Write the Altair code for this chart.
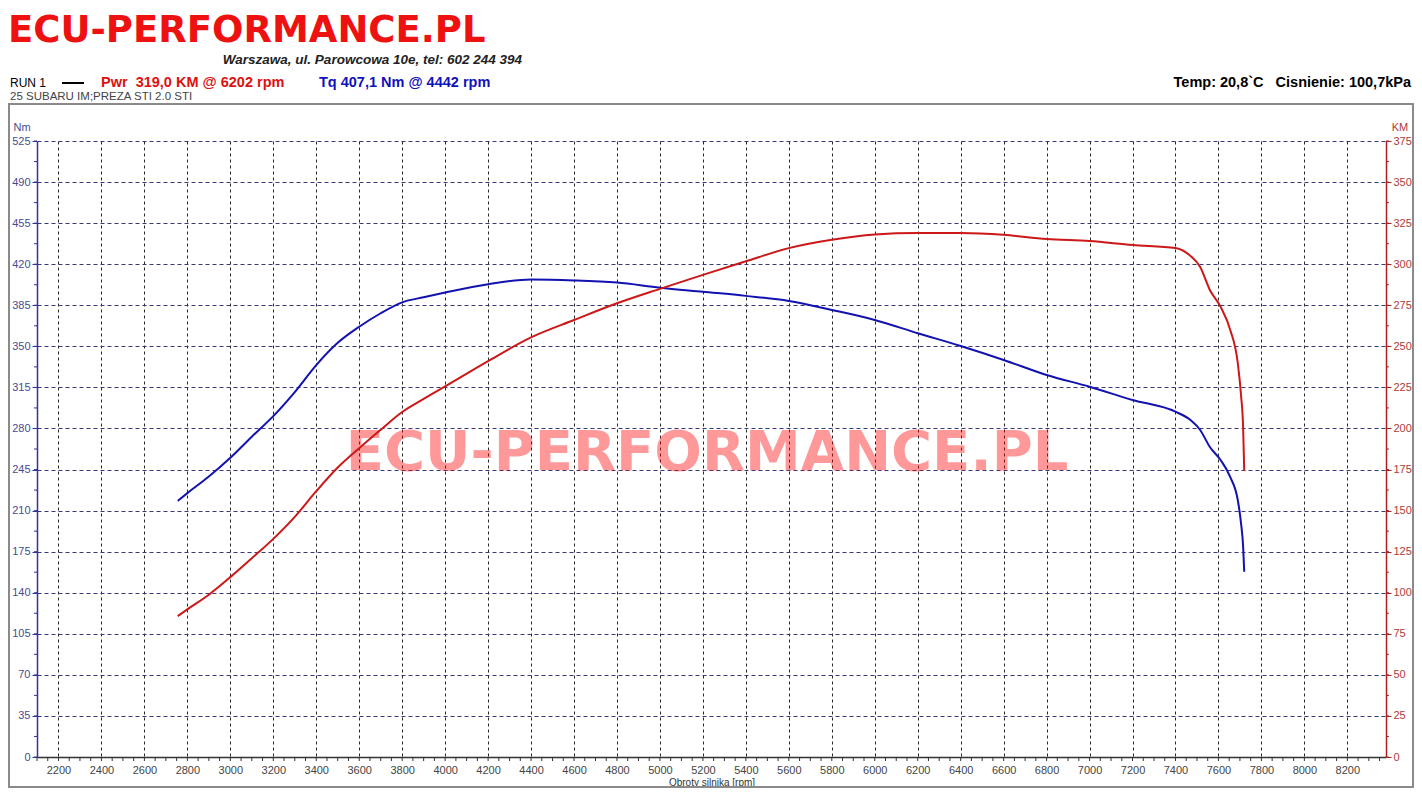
import altair as alt
import pandas as pd

# ---------------- data ----------------
rpm = [2755, 2800, 2900, 3000, 3100, 3200, 3300, 3400, 3500, 3600,
       3700, 3800, 3900, 4000, 4200, 4400, 4600, 4800, 5000, 5200,
       5400, 5600, 5800, 6000, 6200, 6400, 6600, 6800, 7000, 7200,
       7400, 7470, 7515, 7560, 7610, 7655, 7690, 7705, 7715, 7720]
torque_nm = [218.3, 224.9, 239.0, 255.0, 273.0, 290.5, 311.0, 334.0, 353.0, 366.7,
             378.2, 387.5, 391.8, 395.8, 402.9, 407.0, 406.2, 404.3, 400.0, 396.5,
             393.0, 388.7, 381.0, 372.5, 361.2, 350.3, 338.4, 325.6, 315.6, 304.3,
             294.3, 287.2, 278.7, 264.2, 253.1, 238.6, 219.0, 199.4, 179.0, 157.9]
power_km = [85.8, 89.9, 98.8, 109.5, 121.0, 132.8, 146.2, 161.8, 176.2, 188.0,
            199.2, 210.0, 218.0, 225.6, 241.0, 255.4, 266.0, 276.2, 285.0, 293.5,
            301.8, 309.8, 314.9, 318.1, 319.0, 319.0, 317.9, 315.3, 314.1, 311.7,
            309.9, 305.0, 298.3, 284.3, 274.1, 260.0, 239.8, 220.5, 200.0, 174.2]

x_ticks = [2200, 2400, 2600, 2800, 3000, 3200, 3400, 3600, 3800, 4000, 4200, 4400,
           4600, 4800, 5000, 5200, 5400, 5600, 5800, 6000, 6200, 6400, 6600, 6800,
           7000, 7200, 7400, 7600, 7800, 8000, 8200]
nm_ticks = [0, 35, 70, 105, 140, 175, 210, 245, 280, 315, 350, 385, 420, 455, 490, 525]
km_ticks = [0, 25, 50, 75, 100, 125, 150, 175, 200, 225, 250, 275, 300, 325, 350, 375]
x_minor = list(range(2100, 8351, 50))
nm_minor = [i * 17.5 for i in range(31)]
km_minor = [i * 12.5 for i in range(31)]

NB = "\u00a0"
title_text = "ECU-PERFORMANCE.PL"
address_text = "Warszawa, ul. Parowcowa 10e, tel: 602 244 394"
run_text = "RUN 1"
pwr_text = "Pwr" + NB + NB + "319,0 KM @ 6202 rpm"
tq_text = "Tq 407,1 Nm @ 4442 rpm"
car_text = "25 SUBARU IM;PREZA STI 2.0 STI"
env_text = "Temp: 20,8`C" + NB + NB + NB + "Cisnienie: 100,7kPa"
x_title = "Obroty silnika [rpm]"

W, H = 1349, 616

df = pd.DataFrame({"rpm": rpm, "nm": torque_nm, "km": power_km})

x_scale = alt.Scale(domain=[2100, 8380], nice=False, zero=False)
nm_scale = alt.Scale(domain=[0, 525], nice=False)
km_scale = alt.Scale(domain=[0, 375], nice=False)

x_axis = alt.Axis(values=x_ticks, format="d", grid=True, gridColor="#000000",
                  gridDash=[3, 3], gridWidth=1, gridOpacity=0.85, ticks=False,
                  domainColor="#333333", domainWidth=1.5, labelColor="#444444",
                  labelFont="Liberation Sans", labelFontSize=11, labelPadding=7,
                  title=x_title, titleFont="Liberation Sans", titleFontSize=10,
                  titleFontWeight="normal", titleColor="#333333", titlePadding=2)
nm_axis = alt.Axis(values=nm_ticks, grid=True, gridColor="#3a3a7a", gridDash=[4, 3],
                   gridWidth=1, domainColor="#333399", domainWidth=1.5,
                   tickColor="#333399", tickSize=5, labelColor="#4a4a90",
                   labelFont="Liberation Sans", labelFontSize=11, labelPadding=2,
                   title=None)
km_axis = alt.Axis(values=km_ticks, orient="right", grid=False, domainColor="#b02020",
                   domainWidth=1.5, tickColor="#b02020", tickSize=5,
                   labelColor="#b03a3a", labelFont="Liberation Sans", labelFontSize=11,
                   labelPadding=2, title=None)

torque = alt.Chart(df).mark_line(color="#1212b0", strokeWidth=2, interpolate="monotone").encode(
    x=alt.X("rpm:Q", scale=x_scale, axis=x_axis),
    y=alt.Y("nm:Q", scale=nm_scale, axis=nm_axis),
)
xminor = alt.Chart(pd.DataFrame({"rpm": x_minor})).mark_rule(color="#333333", strokeWidth=1).encode(
    x=alt.X("rpm:Q", scale=x_scale, axis=x_axis),
    y=alt.value(H), y2=alt.value(H + 4),
)
nmminor = alt.Chart(pd.DataFrame({"nm": nm_minor})).mark_rule(color="#333399", strokeWidth=1).encode(
    y=alt.Y("nm:Q", scale=nm_scale, axis=nm_axis),
    x=alt.value(-3), x2=alt.value(0),
)
power = alt.Chart(df).mark_line(color="#cc1818", strokeWidth=2, interpolate="monotone").encode(
    x=alt.X("rpm:Q", scale=x_scale, axis=x_axis),
    y=alt.Y("km:Q", scale=km_scale, axis=km_axis),
)
kmminor = alt.Chart(pd.DataFrame({"km": km_minor})).mark_rule(color="#b02020", strokeWidth=1).encode(
    y=alt.Y("km:Q", scale=km_scale, axis=km_axis),
    x=alt.value(W), x2=alt.value(W + 3),
)

nm_group = alt.layer(torque, xminor, nmminor)
km_group = alt.layer(power, kmminor)


def label(txt, x, y, **style):
    return alt.Chart(alt.Data(values=[{"t": txt}])).mark_text(**style).encode(
        x=alt.value(x), y=alt.value(y), text="t:N")


frame = alt.Chart(alt.Data(values=[{"a": 1}])).mark_rect(
    filled=False, stroke="#8a8a8a", strokeWidth=2).encode(
    x=alt.value(-28), x2=alt.value(1376), y=alt.value(-37), y2=alt.value(646))

watermark = label(title_text, 670, 312, align="center", baseline="middle",
                  font="DejaVu Sans", fontSize=56, fontWeight="bold",
                  color="#ff0000", opacity=0.4)

texts = [
    label(title_text, -29, -99, align="left", baseline="alphabetic",
          font="DejaVu Sans", fontSize=37, fontWeight="bold", color="#ee1111"),
    label(address_text, 485, -77, align="right", baseline="alphabetic",
          font="Liberation Sans", fontSize=13.5, fontWeight="bold", fontStyle="italic",
          color="#222222"),
    label(run_text, -27, -54, align="left", baseline="alphabetic",
          font="Liberation Sans", fontSize=12, color="#000000"),
    label(pwr_text, 64, -54, align="left", baseline="alphabetic",
          font="Liberation Sans", fontSize=14.5, fontWeight="bold", color="#dd1111"),
    label(tq_text, 282, -54, align="left", baseline="alphabetic",
          font="Liberation Sans", fontSize=14.5, fontWeight="bold", color="#1111bb"),
    label(car_text, -27, -41, align="left", baseline="alphabetic",
          font="Liberation Sans", fontSize=11.5, color="#444444"),
    label(env_text, 1374, -54, align="right", baseline="alphabetic",
          font="Liberation Sans", fontSize=14.5, fontWeight="bold", color="#000000"),
    label("Nm", -15, -13, align="center", baseline="middle",
          font="Liberation Sans", fontSize=11, color="#4a4a90"),
    label("KM", 1363, -13, align="center", baseline="middle",
          font="Liberation Sans", fontSize=11, color="#b03a3a"),
]
legend_line = alt.Chart(alt.Data(values=[{"a": 1}])).mark_rule(color="#000000", strokeWidth=2).encode(
    x=alt.value(25), x2=alt.value(47), y=alt.value(-58))

chart = alt.layer(frame, watermark, nm_group, km_group, legend_line, *texts).resolve_scale(
    y="independent"
).properties(
    width=W, height=H,
    autosize=alt.AutoSizeParams(type="none"),
    padding={"left": 29, "top": 133, "right": 28, "bottom": 31},
).configure_view(stroke=None)

chart.save("out.html", embed_options={"renderer": "svg", "actions": False})
